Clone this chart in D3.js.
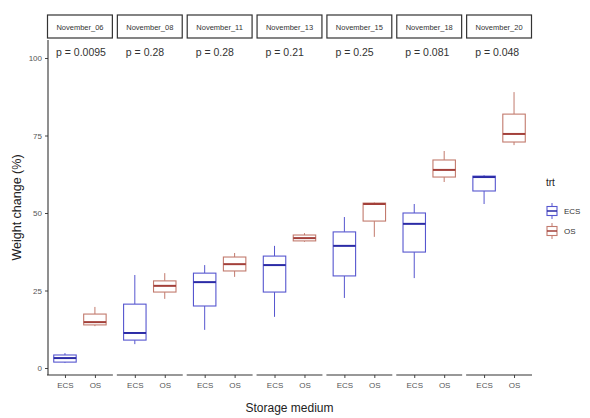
<!DOCTYPE html>
<html>
<head>
<meta charset="utf-8">
<script src="https://cdn.jsdelivr.net/npm/d3@7"></script>
<style>
  body { margin: 0; background: #fff; }
  text { font-family: "Liberation Sans", Arial, sans-serif; }
</style>
</head>
<body>
<div class="chart"></div>
<script>
// facets, groups and p values
const dates = ['November_06','November_08','November_11','November_13','November_15','November_18','November_20'];
const media = ['ECS','OS'];
const pValues = ['p = 0.0095','p = 0.28','p = 0.28','p = 0.21','p = 0.25','p = 0.081','p = 0.048'];

// [min, q1, median, q3, max] for each date
const ecsBoxes = [
  [1.6, 1.9, 3.2, 4.2, 4.8],
  [7.7, 9.0, 11.3, 20.6, 30.0],
  [12.3, 20.0, 27.7, 30.6, 33.2],
  [16.5, 24.5, 33.2, 36.1, 39.4],
  [22.6, 29.7, 39.4, 43.9, 48.7],
  [29.0, 37.4, 46.5, 50.0, 52.9],
  [52.9, 57.1, 61.6, 61.9, 62.2]
];
const osBoxes = [
  [13.5, 13.9, 14.8, 17.4, 19.7],
  [22.3, 24.5, 26.5, 28.1, 30.6],
  [29.4, 31.3, 33.5, 35.8, 37.1],
  [40.7, 41.0, 41.9, 42.9, 43.5],
  [42.3, 47.4, 52.9, 53.2, 53.4],
  [60.0, 61.6, 63.9, 67.1, 70.0],
  [71.9, 72.9, 75.5, 81.9, 89.0]
];
const yTicks = [0, 25, 50, 75, 100];

const colors = {ECS: '#5656cf', OS: '#c27a6d'};
const medColors = {ECS: '#2b2ba6', OS: '#a3403a'};

const width = 590, height = 418;
const panelTop = 40, panelBottom = 375;

const svg = d3.select('.chart').append('svg')
    .attr('width', width)
    .attr('height', height);

const facet = d3.scaleBand()
    .domain(dates)
    .range([47, 532])
    .paddingInner(0.057);

const inner = d3.scalePoint()
    .domain(media)
    .range([0, facet.bandwidth()])
    .padding(0.6);

const y = d3.scaleLinear()
    .domain([0, 100])
    .range([368, 58]);

const boxW = inner.step() * 0.75;

// y axis
const yAxis = d3.axisLeft(y).tickValues(yTicks).tickSize(3).tickPadding(3);
const yg = svg.append('g')
    .attr('class', 'axis y-axis')
    .attr('transform', 'translate(48,0)')
    .call(yAxis);
yg.select('.domain').remove();
yg.selectAll('text').attr('fill', '#555').attr('font-size', '8px');
yg.selectAll('line').attr('stroke', '#444');
svg.append('line')
    .attr('x1', 48).attr('x2', 48)
    .attr('y1', panelTop).attr('y2', panelBottom)
    .attr('stroke', '#333').attr('stroke-width', 1.1);

svg.append('text')
    .attr('transform', 'translate(21,' + ((panelTop + panelBottom) / 2) + ') rotate(-90)')
    .attr('text-anchor', 'middle')
    .attr('font-size', '12.5px')
    .attr('fill', '#222')
    .text('Weight change (%)');

dates.forEach((d, i) => {
    const x0 = facet(d);
    const g = svg.append('g').attr('transform', 'translate(' + x0 + ',0)');

    // strip
    g.append('rect')
        .attr('x', 0.5).attr('y', 15)
        .attr('width', facet.bandwidth() - 1).attr('height', 23)
        .attr('fill', '#fff')
        .attr('stroke', '#333')
        .attr('stroke-width', 1.2);
    g.append('text')
        .attr('x', facet.bandwidth() / 2).attr('y', 29.5)
        .attr('text-anchor', 'middle')
        .attr('font-size', '7.5px')
        .attr('fill', '#333')
        .text(d);

    // p value
    g.append('text')
        .attr('x', 9).attr('y', 56)
        .attr('font-size', '10.5px')
        .attr('fill', '#333')
        .text(pValues[i]);

    // x axis
    const xAxis = d3.axisBottom(inner).tickSize(3).tickPadding(4);
    const xg = g.append('g')
        .attr('class', 'axis x-axis')
        .attr('transform', 'translate(0,' + panelBottom + ')')
        .call(xAxis);
    xg.select('.domain').remove();
    xg.selectAll('text').attr('fill', '#555').attr('font-size', '8px');
    xg.selectAll('line').attr('stroke', '#444');
    g.append('line')
        .attr('x1', 0).attr('x2', facet.bandwidth())
        .attr('y1', panelBottom).attr('y2', panelBottom)
        .attr('stroke', '#333').attr('stroke-width', 1.1);

    // boxes
    const boxes = [{m: 'ECS', s: ecsBoxes[i]}, {m: 'OS', s: osBoxes[i]}];
    const bg = g.selectAll('.box')
        .data(boxes)
        .enter()
        .append('g')
        .attr('class', 'box');

    bg.append('line')
        .attr('x1', b => inner(b.m)).attr('x2', b => inner(b.m))
        .attr('y1', b => y(b.s[4])).attr('y2', b => y(b.s[3]))
        .attr('stroke', b => colors[b.m]);
    bg.append('line')
        .attr('x1', b => inner(b.m)).attr('x2', b => inner(b.m))
        .attr('y1', b => y(b.s[1])).attr('y2', b => y(b.s[0]))
        .attr('stroke', b => colors[b.m]);
    bg.append('rect')
        .attr('x', b => inner(b.m) - boxW / 2)
        .attr('width', boxW)
        .attr('y', b => y(b.s[3]))
        .attr('height', b => y(b.s[1]) - y(b.s[3]))
        .attr('fill', '#fff')
        .attr('stroke', b => colors[b.m])
        .attr('stroke-width', 1.1);
    bg.append('line')
        .attr('x1', b => inner(b.m) - boxW / 2).attr('x2', b => inner(b.m) + boxW / 2)
        .attr('y1', b => y(b.s[2])).attr('y2', b => y(b.s[2]))
        .attr('stroke', b => medColors[b.m])
        .attr('stroke-width', 2);
});

svg.append('text')
    .attr('x', (47 + 532) / 2).attr('y', 412)
    .attr('text-anchor', 'middle')
    .attr('font-size', '12px')
    .attr('fill', '#222')
    .text('Storage medium');

// legend
const legend = svg.append('g').attr('transform', 'translate(546,0)');
legend.append('text')
    .attr('x', 0).attr('y', 186)
    .attr('font-size', '10px')
    .attr('fill', '#222')
    .text('trt');

const keys = legend.selectAll('.key')
    .data(media)
    .enter()
    .append('g')
    .attr('class', 'key')
    .attr('transform', (d, i) => 'translate(0,' + (203 + i * 20) + ')');
keys.append('line')
    .attr('x1', 6).attr('x2', 6).attr('y1', 0).attr('y2', 16)
    .attr('stroke', d => colors[d]);
keys.append('rect')
    .attr('x', 1).attr('y', 3.5).attr('width', 10).attr('height', 9)
    .attr('fill', '#fff')
    .attr('stroke', d => colors[d])
    .attr('stroke-width', 1.1);
keys.append('line')
    .attr('x1', 1).attr('x2', 11).attr('y1', 8).attr('y2', 8)
    .attr('stroke', d => medColors[d])
    .attr('stroke-width', 1.5);
keys.append('text')
    .attr('x', 18).attr('y', 11)
    .attr('font-size', '8px')
    .attr('fill', '#333')
    .text(d => d);
</script>
</body>
</html>
